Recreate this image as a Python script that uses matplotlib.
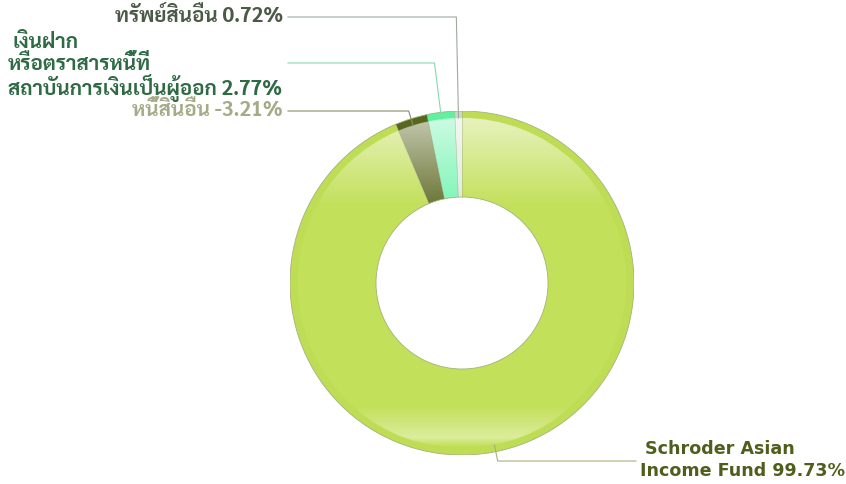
import numpy as np
import matplotlib
matplotlib.use("Agg")
import matplotlib.pyplot as plt
from matplotlib import font_manager

# data (counter-clockwise from 12 o'clock)
labels = ["ทรัพย์สินอื่น 0.72%",
          "เงินฝาก\nหรือตราสารหนี้ที่\nสถาบันการเงินเป็นผู้ออก 2.77%",
          "หนี้สินอื่น -3.21%",
          "Schroder Asian\nIncome Fund 99.73%"]
values = [0.72, 2.77, -3.21, 99.73]

face_colors = ["#e3e9df", "#7ef5b6", "#6b7636", "#c3e05b"]
rim_colors = ["#cdd6c6", "#5ef2a0", "#59661f", "#bfdc55"]
line_colors = ["#9eaa9e", "#86d8ae", "#858c68", "#a6b27a"]
text_colors = ["#4b5a47", "#2f6a45", "#a5ab87", "#4e5e1c"]

# pick a Thai sans that has a real bold face
bold_families = {f.name for f in font_manager.fontManager.ttflist
                 if isinstance(f.weight, int) and f.weight == 700}
thai = next((n for n in ["Sarabun", "IBM Plex Sans Thai Looped", "Bai Jamjuree",
                         "Athiti"] if n in bold_families), None)
plt.rcParams["font.family"] = ([thai] if thai else []) + ["DejaVu Sans"]

W, H = 846, 484
cx, cy, R = 462, 283, 172

fig = plt.figure(figsize=(W / 100, H / 100), dpi=100)

# pie axes in its own unit coordinates
pax = fig.add_axes([(cx - R) / W, (H - cy - R) / H, 2 * R / W, 2 * R / H])
sizes = np.abs(values)
rim_w = 0.04
wedges, _ = pax.pie(sizes, colors=face_colors, startangle=90, counterclock=True,
                    radius=1 - rim_w, wedgeprops=dict(width=0.46, linewidth=0))
pax.pie(sizes, colors=rim_colors, startangle=90, counterclock=True,
        radius=1.0, wedgeprops=dict(width=rim_w + 0.005, linewidth=0))

# glossy overlay: white fading downward, plus a soft band near the bottom
yy = np.linspace(1, -1, 400)
alpha = np.interp(yy, [-1, -0.95, -0.9, -0.72, 0.45, 0.96, 1],
                  [0, 0.0, 0.4, 0.0, 0.0, 0.6, 0.6])
img = np.ones((400, 2, 4))
img[:, :, 3] = alpha[:, None]
for w in wedges:
    im = pax.imshow(img, extent=(-1, 1, -1, 1), zorder=3, aspect="auto")
    im.set_clip_path(w)

# thin outlines
for r in (1.0, 0.5):
    pax.add_patch(plt.Circle((0, 0), r, fill=False, ec="#a3b27a", lw=0.6, zorder=4))
ang = 90.0
bounds = []
for s in sizes:
    bounds.append(ang)
    ang += s / sizes.sum() * 360
for a in bounds:
    t = np.deg2rad(a)
    pax.plot([0.5 * np.cos(t), np.cos(t)], [0.5 * np.sin(t), np.sin(t)],
             color="#8e9a78", lw=0.4, alpha=0.6, zorder=4)
pax.set_xlim(-1, 1)
pax.set_ylim(-1, 1)
pax.axis("off")

# overlay axes in pixel coordinates for labels and leader lines
ax = fig.add_axes([0, 0, 1, 1], zorder=5)
ax.set_xlim(0, W)
ax.set_ylim(H, 0)
ax.axis("off")
ax.patch.set_alpha(0)

label_y = [17, 63, 111, 461]
label_end_x = [288, 288, 288, 636]
mids = []
ang = 90.0
for s in sizes:
    span = s / sizes.sum() * 360
    mids.append(ang + span / 2)
    ang += span

for i, m in enumerate(mids):
    t = np.deg2rad(m)
    r0 = 0.96 * R
    ax0, ay0 = cx + r0 * np.cos(t), cy - r0 * np.sin(t)
    r1 = (cy - label_y[i]) / np.sin(t)
    ex, ey = cx + r1 * np.cos(t), label_y[i]
    ax.plot([ax0, ex, label_end_x[i]], [ay0, ey, ey], color=line_colors[i], lw=0.8)


def fit_size(text, target_px, family=None, start=12.0):
    kw = dict(fontsize=start, fontweight="bold")
    if family:
        kw["family"] = family
    t = ax.text(0, 0, text, **kw)
    fig.canvas.draw()
    width = t.get_window_extent().width
    t.remove()
    return start * target_px / width


lines = labels[1].split("\n")
l4 = labels[3].split("\n")
fs = min(fit_size(lines[2], 275), 15.5)
fs_en = fit_size(l4[1], 205, family="DejaVu Sans")

ax.text(283, 16, labels[0], ha="right", va="center", fontsize=fs,
        fontweight="bold", color=text_colors[0])
ax.text(13, 42, lines[0], ha="left", va="center", fontsize=fs,
        fontweight="bold", color=text_colors[1])
ax.text(8, 64, lines[1], ha="left", va="center", fontsize=fs,
        fontweight="bold", color=text_colors[1])
ax.text(8, 88, lines[2], ha="left", va="center", fontsize=fs,
        fontweight="bold", color=text_colors[1])
ax.text(283, 111, labels[2], ha="right", va="center", fontsize=fs,
        fontweight="bold", color=text_colors[2])
ax.text(645, 449, l4[0], ha="left", va="center", fontsize=fs_en,
        fontweight="bold", color=text_colors[3], family="DejaVu Sans")
ax.text(640, 471, l4[1], ha="left", va="center", fontsize=fs_en,
        fontweight="bold", color=text_colors[3], family="DejaVu Sans")

fig.savefig("out.png", dpi=100)
